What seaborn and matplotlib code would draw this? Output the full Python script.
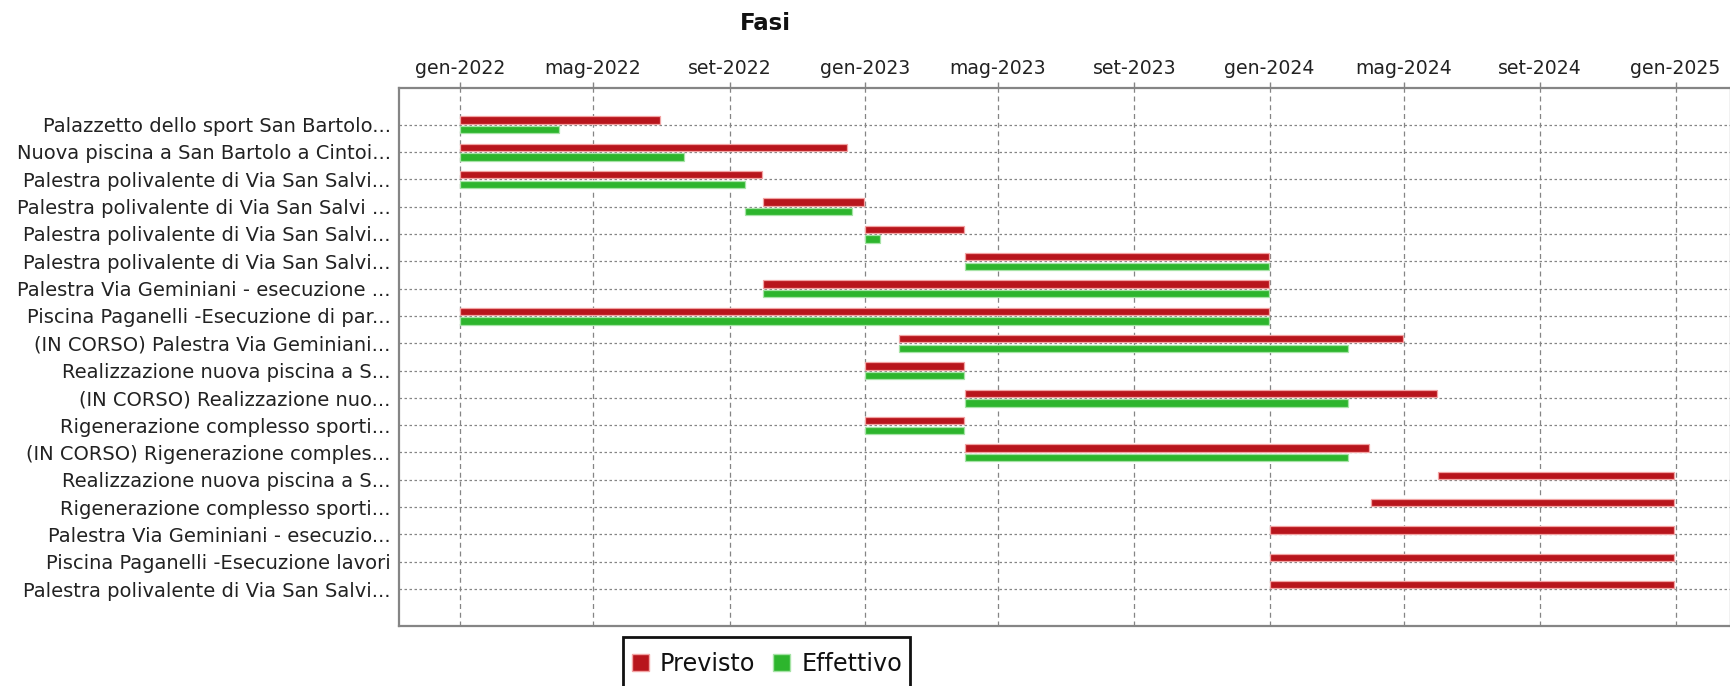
import matplotlib
matplotlib.use("Agg")
import matplotlib.pyplot as plt
import matplotlib.dates as mdates
from matplotlib.patches import Patch, Rectangle
from matplotlib.ticker import FuncFormatter
import numpy as np
import pandas as pd
import seaborn as sns

# Phases of the sports-facility works
fasi = [
    "Palazzetto dello sport San Bartolo...",
    "Nuova piscina a San Bartolo a Cintoi...",
    "Palestra polivalente di Via San Salvi...",
    "Palestra polivalente di Via San Salvi ...",
    "Palestra polivalente di Via San Salvi...",
    "Palestra polivalente di Via San Salvi...",
    "Palestra Via Geminiani - esecuzione ...",
    "Piscina Paganelli -Esecuzione di par...",
    "(IN CORSO) Palestra Via Geminiani...",
    "Realizzazione nuova piscina a S...",
    "(IN CORSO) Realizzazione nuo...",
    "Rigenerazione complesso sporti...",
    "(IN CORSO) Rigenerazione comples...",
    "Realizzazione nuova piscina a S...",
    "Rigenerazione complesso sporti...",
    "Palestra Via Geminiani - esecuzio...",
    "Piscina Paganelli -Esecuzione lavori",
    "Palestra polivalente di Via San Salvi...",
]

previsto_inizio = [
    "2022-01-01", "2022-01-01", "2022-01-01", "2022-10-01", "2023-01-01",
    "2023-04-01", "2022-10-01", "2022-01-01", "2023-02-01", "2023-01-01",
    "2023-04-01", "2023-01-01", "2023-04-01", "2024-06-01", "2024-04-01",
    "2024-01-01", "2024-01-01", "2024-01-01",
]
previsto_fine = [
    "2022-06-30", "2022-12-16", "2022-09-30", "2022-12-31", "2023-03-31",
    "2023-12-31", "2023-12-31", "2023-12-31", "2024-04-30", "2023-03-31",
    "2024-05-31", "2023-03-31", "2024-03-31", "2024-12-31", "2024-12-31",
    "2024-12-31", "2024-12-31", "2024-12-31",
]
effettivo_inizio = [
    "2022-01-01", "2022-01-01", "2022-01-01", "2022-09-15", "2023-01-01",
    "2023-04-01", "2022-10-01", "2022-01-01", "2023-02-01", "2023-01-01",
    "2023-04-01", "2023-01-01", "2023-04-01", None, None,
    None, None, None,
]
effettivo_fine = [
    "2022-03-31", "2022-07-22", "2022-09-15", "2022-12-20", "2023-01-15",
    "2023-12-31", "2023-12-31", "2023-12-31", "2024-03-12", "2023-03-31",
    "2024-03-12", "2023-03-31", "2024-03-12", None, None,
    None, None, None,
]

MESI = ["gen", "feb", "mar", "apr", "mag", "giu",
        "lug", "ago", "set", "ott", "nov", "dic"]

ROSSO = "#B8151C"
ROSSO_BORDO = "#F2A3A3"
VERDE = "#2DB52D"
VERDE_BORDO = "#A6E3A6"
GRIGIO = "#858585"

sns.set_theme(style="white")
plt.rcParams["font.family"] = ["DejaVu Sans"]

W, H = 1730, 686
fig = plt.figure(figsize=(W / 100, H / 100), dpi=100)
ax = fig.add_axes([399 / W, 1 - 626 / H, (1731 - 399) / W, (626 - 88) / H])


def to_num(values):
    return np.array([mdates.date2num(pd.Timestamp(v)) if v else np.nan
                     for v in values])


y = np.arange(len(fasi))
p0, p1 = to_num(previsto_inizio), to_num(previsto_fine)
e0, e1 = to_num(effettivo_inizio), to_num(effettivo_fine)

h = 0.27
ax.barh(y - 0.165, p1 - p0, left=p0, height=h, color=ROSSO,
        edgecolor=ROSSO_BORDO, linewidth=0.9, zorder=3)
ok = ~np.isnan(e0)
ax.barh(y[ok] + 0.185, (e1 - e0)[ok], left=e0[ok], height=h, color=VERDE,
        edgecolor=VERDE_BORDO, linewidth=0.9, zorder=3)

ax.set_xlim(mdates.date2num(pd.Timestamp("2021-11-07")),
            mdates.date2num(pd.Timestamp("2025-02-20")))
ax.set_ylim(len(fasi) - 1 + 1.35, -1.34)

ax.xaxis.set_major_locator(mdates.MonthLocator(bymonth=[1, 5, 9]))
ax.xaxis.set_major_formatter(FuncFormatter(
    lambda v, _: f"{MESI[mdates.num2date(v).month - 1]}-{mdates.num2date(v).year}"))
ax.xaxis.tick_top()
ax.set_yticks(y)
ax.set_yticklabels(fasi)

ax.tick_params(axis="x", which="major", top=True, bottom=False, direction="out",
               length=4, width=1, color=GRIGIO, pad=3, labelsize=13.6,
               labelcolor="#222222")
ax.tick_params(axis="y", left=False, length=0, pad=6, labelsize=14,
               labelcolor="#222222")

ax.set_axisbelow(True)
ax.xaxis.grid(True, color=GRIGIO, linewidth=0.9, linestyle=(0, (4, 3)))
ax.yaxis.grid(True, color=GRIGIO, linewidth=0.9, linestyle=(0, (2, 2)))
for lato, sp in ax.spines.items():
    sp.set_color(GRIGIO)
    sp.set_linewidth(1.6)

fig.text(765 / W, 1 - 23 / H, "Fasi", ha="center", va="center",
         fontsize=16.5, fontweight="bold", color="#111111")

# Legend box: taller than its single row, running past the lower edge
fig.patches.append(Rectangle((623 / W, 1 - 700 / H), (910 - 623) / W, (700 - 637) / H,
                             transform=fig.transFigure, facecolor="white",
                             edgecolor="#111111", linewidth=2, zorder=1))

maniglie = [Patch(facecolor=ROSSO, edgecolor=ROSSO_BORDO, label="Previsto"),
            Patch(facecolor=VERDE, edgecolor=VERDE_BORDO, label="Effettivo")]
leg = fig.legend(handles=maniglie, loc="center left",
                 bbox_to_anchor=(632 / W, 1 - 664 / H), ncol=2,
                 fontsize=17.2, frameon=False,
                 handlelength=0.72, handleheight=0.72, handletextpad=0.45,
                 columnspacing=0.75, borderpad=0, borderaxespad=0)
leg.set_zorder(2)
for t in leg.get_texts():
    t.set_color("#111111")

fig.savefig("out.png", dpi=100)
